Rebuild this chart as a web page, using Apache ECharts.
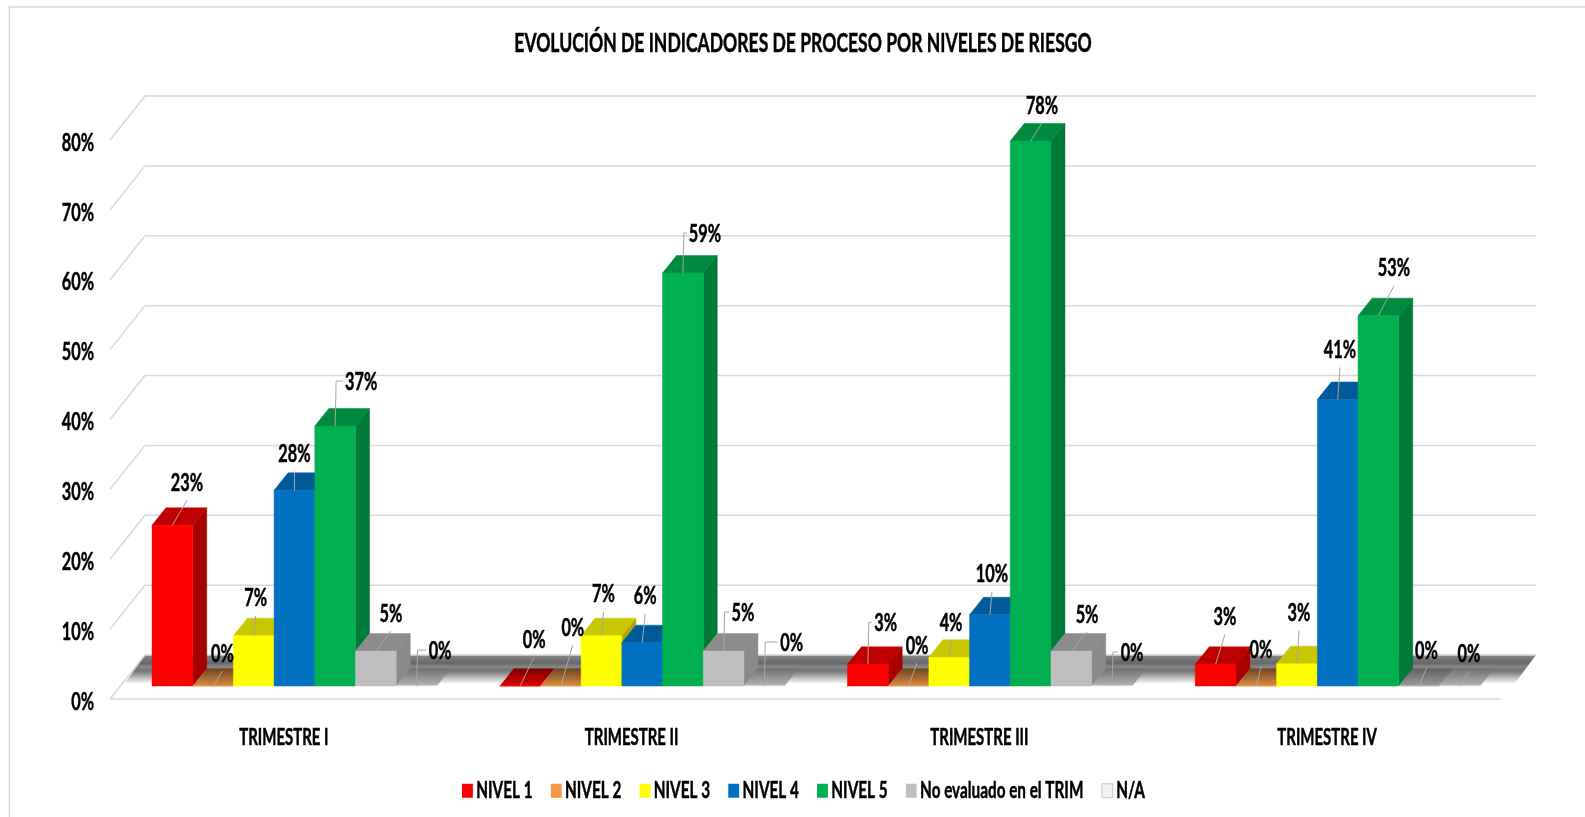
<!DOCTYPE html>
<html><head><meta charset="utf-8">
<style>html,body{margin:0;padding:0;background:#fff}#c{width:1585px;height:817px}</style>
<script src="https://cdn.jsdelivr.net/npm/echarts@6/dist/echarts.min.js"></script>
</head><body><div id="c"></div>
<script>
const categories = ['TRIMESTRE I','TRIMESTRE II','TRIMESTRE III','TRIMESTRE IV'];
const yTicks = [0,10,20,30,40,50,60,70,80];
const nivel1 = [23, 0, 3.1, 3.1];
const nivel2 = [0, 0, 0, 0];
const nivel3 = [7.2, 7.2, 4.1, 3.2];
const nivel4 = [28, 6.2, 10.2, 41];
const nivel5 = [37.2, 59.1, 78, 53];
const noEvaluado = [5, 5, 5, 0];
const na = [0, 0, 0, 0];
const seriesNames = ['NIVEL 1','NIVEL 2','NIVEL 3','NIVEL 4','NIVEL 5','No evaluado en el TRIM','N/A'];
const seriesValues = [nivel1,nivel2,nivel3,nivel4,nivel5,noEvaluado,na];

const FRONT = ['#ff0000','#f79646','#ffff00','#0070c0','#00b050','#bfbfbf','#f2f2f2'];
const TOP   = ['#c00000','#b8682c','#c8c800','#005a9a','#008a3f','#8c8c8c','#b5b5b5'];
const SIDE  = ['#a60000','#a85a20','#a8a800','#004f86','#007a38','#8a8a8a','#c0c0c0'];
const ZERO_BACK  = ['#7a0000','#6e4420','#808000','#003a66','#005c2a','#606060','#707070'];
const ZERO_FRONT = ['#e00000','#d98a40','#e0e000','#0070c0','#00b050','#9a9a9a','#b5b5b5'];
const FONT = 'Lato,"Liberation Sans",sans-serif';
const TEXT_SQUEEZE = 0.68, TITLE_SQUEEZE = 0.65;
const HEAVY = {textBorderColor:'#000',textBorderWidth:0.5};

// label offsets from the top-centre of each bar, [series][category]
const labelOffsets = [
 [[14.6,-42],[14,-46],[17.8,-41],[9.4,-47]],
 [[9.4,-32],[12,-58],[8.5,-40],[4.7,-36]],
 [[2,-37],[2,-41],[1.8,-34],[2,-50]],
 [[0,-36],[3,-46],[2,-40],[2.3,-49]],
 [[26,-44],[22,-39],[11.4,-35],[15.6,-47]],
 [[15,-37],[19.4,-38],[15.7,-36],[7.4,-35]],
 [[23.5,-35],[27.3,-43],[20,-33],[9.2,-32]]
];

const BAR_W = 40.7, GROUP_PAD = 42, BASE_LIFT = 13, DX = 14, DY = 17.5, WALL_DX = 35, WALL_DY = 44;

function barGeom(api, cat, s, v){
  const band = api.size([1,0])[0];
  const c0 = api.coord([cat,0]);
  const left = c0[0] - band/2 + GROUP_PAD + s*BAR_W;
  const top = api.coord([cat,v])[1] - BASE_LIFT;
  const base = c0[1] - BASE_LIFT;
  return {left, right:left+BAR_W, top, base};
}

function renderBar(s){
  return function(params, api){
    const cat = api.value(0), v = api.value(1);
    const g = barGeom(api, cat, s, v);
    const kids = [];
    const topPts = [[g.left,g.top],[g.right,g.top],[g.right+DX,g.top-DY],[g.left+DX,g.top-DY]];
    if (v > 0) {
      kids.push({type:'polygon',shape:{points:[[g.right,g.base],[g.right+DX,g.base-DY],[g.right+DX,g.top-DY],[g.right,g.top]]},
        style:{fill:SIDE[s],stroke:SIDE[s],lineWidth:0.5}});
      kids.push({type:'polygon',shape:{points:topPts},style:{fill:TOP[s],stroke:TOP[s],lineWidth:0.5}});
      kids.push({type:'rect',shape:{x:g.left,y:g.top,width:BAR_W,height:g.base-g.top},
        style:{fill:FRONT[s],stroke:FRONT[s],lineWidth:0.5}});
    } else {
      kids.push({type:'polygon',shape:{points:topPts},style:{fill:{type:'linear',x:0,y:0,x2:0,y2:1,colorStops:[
        {offset:0,color:ZERO_BACK[s]},{offset:1,color:ZERO_FRONT[s]}]}}});
      kids.push({type:'line',shape:{x1:g.left,y1:g.base,x2:g.right,y2:g.base},style:{stroke:FRONT[s],lineWidth:1.2}});
    }
    return {type:'group',children:kids};
  };
}

function renderLabel(params, api){
  const cat = api.value(0), v = api.value(1), s = api.value(2);
  const g = barGeom(api, cat, s, v);
  const cx = (g.left+g.right)/2;
  const off = labelOffsets[s][cat];
  const lx = cx+off[0], ly = g.top+off[1];
  const txt = Math.round(v)+'%';
  const halfW = txt.length>2 ? 15 : 11;
  let pts;
  if (off[0] >= 17.5) pts = [[cx,g.top],[cx+1,ly-1],[lx-halfW-3,ly-1]];
  else pts = [[cx,g.top],[lx,ly+17]];
  return {type:'group',children:[
    {type:'polyline',shape:{points:pts},style:{stroke:'#a6a6a6',lineWidth:1,fill:'none'}},
    {type:'text',x:lx,y:ly,scaleX:TEXT_SQUEEZE,style:{text:txt,fill:'#000',stroke:'#000',lineWidth:0.5,font:'bold 24px '+FONT,align:'center',verticalAlign:'middle'}}
  ]};
}

function renderWall(params, api){
  const v = api.value(0);
  const band = api.size([1,0])[0];
  const p = api.coord([0,v]);
  const xl = p[0]-band/2, xr = xl+band*categories.length;
  const style = {stroke:'#d9d9d9',lineWidth:1.5,fill:'none'};
  const kids = [{type:'polyline',shape:{points:[[xl,p[1]],[xl+WALL_DX,p[1]-WALL_DY],[xr+WALL_DX,p[1]-WALL_DY]]},style}];
  if (v === 0) {
    kids.unshift({type:'polygon',shape:{points:[[xl+WALL_DX,p[1]-WALL_DY],[xr+WALL_DX,p[1]-WALL_DY],[xr+WALL_DX-21,p[1]-16],[xl+WALL_DX-20,p[1]-16]]},
      style:{fill:{type:'linear',x:0,y:0,x2:0,y2:1,colorStops:[
        {offset:0,color:'#8a8a8a'},{offset:0.15,color:'#757575'},{offset:0.3,color:'#686868'},{offset:0.42,color:'#888888'},
        {offset:0.55,color:'#747474'},{offset:0.7,color:'#989898'},{offset:0.85,color:'#cacaca'},{offset:1,color:'#f0f0f0'}]}}});
    kids.push({type:'polyline',shape:{points:[[xl,p[1]],[xr,p[1]]]},style});
  }
  return {type:'group',children:kids};
}

const labelData = [];
seriesValues.forEach((arr,s)=>arr.forEach((v,c)=>labelData.push([c,v,s])));

const series = [{
  name:'walls',type:'custom',coordinateSystem:'cartesian2d',clip:false,silent:true,z:1,
  data:yTicks.map(t=>[t]),encode:{y:0},renderItem:renderWall
}];
seriesNames.forEach((n,s)=>series.push({
  name:n,type:'custom',coordinateSystem:'cartesian2d',clip:false,z:2+s,
  itemStyle:{color:FRONT[s]},
  data:seriesValues[s].map((v,c)=>[c,v]),encode:{x:0,y:1},renderItem:renderBar(s)
}));
series.push({name:'labels',type:'custom',coordinateSystem:'cartesian2d',clip:false,silent:true,z:20,
  data:labelData,encode:{x:0,y:1},renderItem:renderLabel});

const chart = echarts.init(document.getElementById('c'),null,{renderer:'canvas'});
chart.setOption({
  animation:false,
  backgroundColor:'#fff',
  title:{text:'EVOLUCIÓN DE INDICADORES DE PROCESO POR NIVELES DE RIESGO',left:798,top:25,textAlign:'center',
    textStyle:Object.assign({fontFamily:FONT,fontWeight:'bold',fontSize:27,color:'#000'},HEAVY)},
  graphic:[{type:'polyline',z:0,shape:{points:[[9.5,817],[9.5,7],[1585,7]]},style:{fill:'none',stroke:'#d9d9d9',lineWidth:1.5}}],
  legend:{left:457,top:774,itemWidth:16,itemHeight:14,itemGap:26.5,selectedMode:false,icon:'rect',
    textStyle:Object.assign({fontFamily:FONT,fontWeight:'bold',fontSize:22.5,color:'#000'},HEAVY),
    data:seriesNames.map((n,s)=>({name:n,itemStyle:s===6?{color:'#f2f2f2',borderColor:'#bfbfbf',borderWidth:1}:{color:FRONT[s]}}))},
  tooltip:{show:false},
  grid:{left:110,top:140,right:84,bottom:118},
  xAxis:{type:'category',data:categories,axisLine:{show:false},axisTick:{show:false},
    axisLabel:Object.assign({margin:28,fontFamily:FONT,fontWeight:'bold',fontSize:22,color:'#000'},HEAVY)},
  yAxis:{type:'value',min:0,max:80,interval:10,axisLine:{show:false},axisTick:{show:false},splitLine:{show:false},
    axisLabel:Object.assign({margin:16,formatter:'{value}%',fontFamily:FONT,fontWeight:'bold',fontSize:24,color:'#000'},HEAVY)},
  series
});

// The reference text is condensed; no condensed face is installed, so narrow the rendered text.
(chart._componentsViews||[]).forEach(function(view){
  if (!view || !view.group) return;
  if (view.type && view.type.indexOf('legend')===0) {
    view.group.scaleX = TEXT_SQUEEZE;
    view.group.markRedraw && view.group.markRedraw();
    return;
  }
  const k = view.type && view.type.indexOf('title')===0 ? TITLE_SQUEEZE : TEXT_SQUEEZE;
  view.group.traverse(function(el){
    if (!el.isGroup && el.style && el.style.text!=null && el.scaleX===1) {
      el.scaleX = k;
      if (/%$/.test(String(el.style.text))) el.y += 3;
      el.markRedraw && el.markRedraw();
    }
  });
});
chart.getZr().refresh();
</script></body></html>
